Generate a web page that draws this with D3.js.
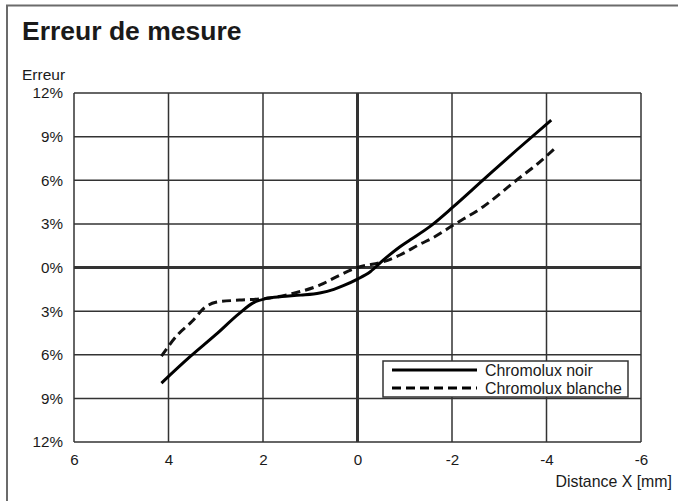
<!DOCTYPE html>
<html><head><meta charset="utf-8">
<script src="https://cdn.jsdelivr.net/npm/d3@7/dist/d3.min.js"></script>
<style>
body{margin:0;background:#fff;}
svg{display:block;font-family:"Liberation Sans",Arial,Helvetica,sans-serif;}
</style></head><body>
<svg id="c" width="678" height="501"></svg>
<script>
const title = "Erreur de mesure";
const yLabel = "Erreur";
const xLabel = "Distance X [mm]";
const xTicks = [6, 4, 2, 0, -2, -4, -6];
const yTicks = [-12, -9, -6, -3, 0, 3, 6, 9, 12];
const seriesNames = ["Chromolux noir", "Chromolux blanche"];
const noirX = [4.15, 3.55, 3.0, 2.5, 2.2, 1.92, 1.6, 1.2, 0.8, 0.5, 0.3, 0.0, -0.27, -0.55, -0.9, -1.11, -1.53, -2.03, -2.66, -3.37, -4.1];
const noirY = [-7.95, -6.15, -4.62, -3.15, -2.42, -2.12, -2.0, -1.9, -1.75, -1.5, -1.25, -0.8, -0.29, 0.52, 1.43, 1.89, 2.81, 4.18, 6.02, 8.08, 10.14];
const blancheX = [4.15, 3.8, 3.5, 3.25, 3.0, 2.5, 1.92, 1.35, 0.79, 0.37, 0.0, -0.55, -0.9, -1.32, -1.6, -2.03, -2.66, -3.37, -3.8, -4.23];
const blancheY = [-6.1, -4.6, -3.7, -2.8, -2.39, -2.24, -2.12, -1.77, -1.2, -0.52, 0.0, 0.4, 0.86, 1.6, 2.05, 2.92, 4.18, 6.02, 7.1, 8.35];

const svg = d3.select("#c");
const L = 74, R = 641, T = 93, B = 442;
const x = d3.scaleLinear().domain([6, -6]).range([L, R]);
const y = d3.scaleLinear().domain([-12, 12]).range([B, T]);
const grid = "#333";
const ink = "#1a1a1a";

// outer frame
svg.append("rect").attr("x", 7).attr("y", 5.5).attr("width", 720).attr("height", 600)
  .attr("fill", "none").attr("stroke", "#6b6b6b").attr("stroke-width", 2);

svg.append("text").attr("x", 22).attr("y", 39.5).attr("font-size", 26.5).attr("font-weight", "bold")
  .attr("fill", ink).text(title);
svg.append("text").attr("x", 22).attr("y", 80).attr("font-size", 15.5).attr("fill", ink).text(yLabel);

// grid
svg.append("g").selectAll("line").data(yTicks).join("line")
  .attr("x1", L).attr("x2", R).attr("y1", d => y(d)).attr("y2", d => y(d))
  .attr("stroke", grid).attr("stroke-width", d => d === 0 ? 3 : 1.5);
svg.append("g").selectAll("line").data(xTicks).join("line")
  .attr("y1", T).attr("y2", B).attr("x1", d => x(d)).attr("x2", d => x(d))
  .attr("stroke", grid).attr("stroke-width", d => d === 0 ? 3 : 1.5);

// axes labels
const ya = svg.append("g").attr("transform", `translate(${L - 11},0)`)
  .call(d3.axisLeft(y).tickValues(yTicks).tickSize(0).tickPadding(0).tickFormat(d => Math.abs(d) + "%"));
ya.select(".domain").remove();
ya.selectAll("text").attr("font-size", 15.2).attr("fill", ink).attr("font-family", null);

const xa = svg.append("g").attr("transform", `translate(0,${B + 12})`)
  .call(d3.axisBottom(x).tickValues(xTicks).tickSize(0).tickPadding(0).tickFormat(d => d));
xa.select(".domain").remove();
xa.selectAll("text").attr("font-size", 15.2).attr("fill", ink).attr("font-family", null);

svg.append("text").attr("x", 672).attr("y", 487).attr("text-anchor", "end").attr("font-size", 15.9)
  .attr("fill", ink).text(xLabel);

// lines
const line = d3.line().x(d => x(d[0])).y(d => y(d[1])).curve(d3.curveMonotoneX);
const noir = noirX.map((v, i) => [v, noirY[i]]);
const blanche = blancheX.map((v, i) => [v, blancheY[i]]);
svg.append("path").attr("d", line(blanche)).attr("fill", "none").attr("stroke", "#111")
  .attr("stroke-width", 3).attr("stroke-dasharray", "9,5");
svg.append("path").attr("d", line(noir)).attr("fill", "none").attr("stroke", "#000")
  .attr("stroke-width", 3);

// legend
const lg = svg.append("g");
lg.append("rect").attr("x", 383).attr("y", 361).attr("width", 245).attr("height", 36)
  .attr("fill", "#fff").attr("stroke", grid).attr("stroke-width", 1.5);
const rows = [{n: seriesNames[0], dash: null, y: 370}, {n: seriesNames[1], dash: "9,5", y: 388}];
rows.forEach(r => {
  lg.append("line").attr("x1", 392).attr("x2", 477).attr("y1", r.y).attr("y2", r.y)
    .attr("stroke", "#000").attr("stroke-width", 3).attr("stroke-dasharray", r.dash);
  lg.append("text").attr("x", 485).attr("y", r.y + 5.5).attr("font-size", 15.9).attr("fill", ink).text(r.n);
});
</script></body></html>
